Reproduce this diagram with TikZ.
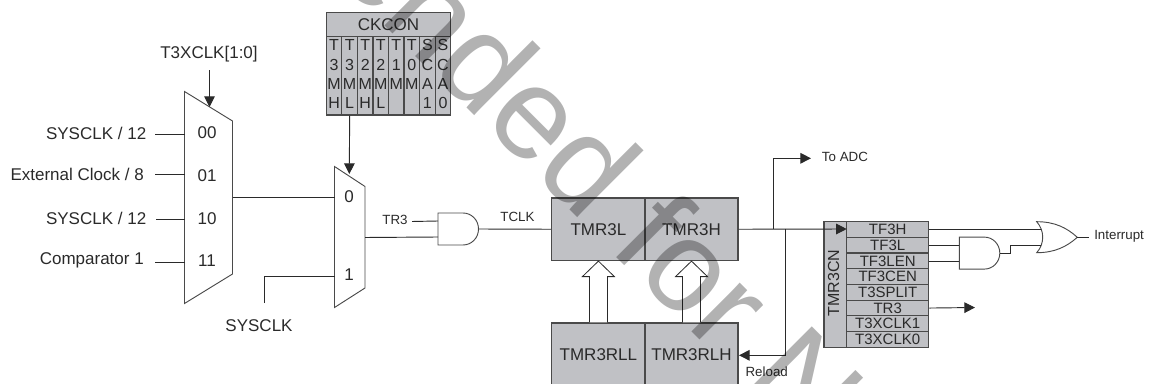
\documentclass[tikz,border=0pt]{standalone}
\usepackage{fontspec}
\setmainfont{Liberation Sans}
\usetikzlibrary{arrows.meta,calc}
\definecolor{ink}{HTML}{2A2A2A}
\definecolor{boxgrey}{HTML}{C0C1C5}
\definecolor{edgegrey}{HTML}{4A4A4A}
\newcommand{\fs}[1]{\fontsize{#1}{#1}\selectfont}
\tikzset{
  wire/.style={draw=ink,line width=0.7pt},
  arr/.style={wire,-{Triangle[length=8pt,width=8pt]}},
  lbl/.style={text=ink,inner sep=0pt,font=\fs{12.75}},
  smalllbl/.style={text=ink,inner sep=0pt,font=\fs{10}},
  muxshape/.style={draw=edgegrey,line width=0.7pt,fill=white},
  reg/.style={draw=edgegrey,line width=0.9pt,fill=boxgrey,text=ink,inner sep=0pt,font=\fs{12.75}},
  rowcell/.style={reg,minimum width=61.5pt,minimum height=11.78pt,font=\fs{11.25}},
  bitcell/.style={reg,minimum width=11.66pt,minimum height=59.0pt},
  bittext/.style={text=ink,inner sep=0pt,align=center,font=\fontsize{12}{14.5}\selectfont},
  hollow/.style={draw=ink,line width=0.6pt,fill=white},
  watermark/.style={inner sep=0pt,text=black,text opacity=0.3,font=\fs{97.5}},
  andg/.pic={
    \draw[wire,draw=edgegrey,fill=white] (0,0) -- (25,0) .. controls (33.5,0) and (40.5,7) .. (40.5,16)
      .. controls (40.5,25) and (33.5,32) .. (25,32) -- (0,32) -- cycle;
    \coordinate (-a) at (0,8);
    \coordinate (-b) at (0,24);
    \coordinate (-o) at (40.5,16);
  },
  org/.pic={
    \draw[wire,draw=edgegrey,fill=white] (0,0) .. controls (18,0) and (30,6) .. (40.6,15.6)
      .. controls (30,25) and (18,31) .. (0,31) .. controls (8,22) and (8,9) .. (0,0) -- cycle;
    \coordinate (-a) at (4.5,7.3);
    \coordinate (-b) at (4.5,23.3);
    \coordinate (-o) at (40.6,15.6);
  },
}
\begin{document}
\begin{tikzpicture}[x=0.75pt,y=-0.75pt]
\useasboundingbox (0,0) rectangle (1151,384);
\clip (0,0) rectangle (1151,384);

% first multiplexer
\draw[muxshape] (184.5,91.5) coordinate (m1tl) -- (232.5,121) coordinate (m1tr)
  -- (232.5,274) coordinate (m1br) -- (184.5,303.5) coordinate (m1bl) -- cycle;
\node[lbl] (t3sel) at (209,54) {T3XCLK[1:0]};
\coordinate (t3tip) at (209.5,107);
\draw[arr] (t3sel.south -| t3tip) ++(0,8) -- (t3tip);
\node[lbl] (p00) at (207,133) {00};
\node[lbl] (p01) at (207,176) {01};
\node[lbl] (p10) at (207,219) {10};
\node[lbl] (p11) at (207,260.5) {11};
\node[lbl,anchor=east] (s0) at (146.5,133) {SYSCLK / 12};
\node[lbl,anchor=east] (s1) at (144,174) {External Clock / 8};
\node[lbl,anchor=east] (s2) at (146.5,218.5) {SYSCLK / 12};
\node[lbl,anchor=east] (s3) at (144,260) {Comparator 1};
\foreach \n/\yy/\xx in {0/134.5/155,1/174.5/155,2/219/156,3/262/155}{
  \coordinate (a\n) at (\xx,\yy);
  \draw[wire] (a\n) -- (a\n -| m1tl);
}

% second multiplexer
\draw[muxshape] (334.5,166.5) coordinate (m2tl) -- (365,186.5) coordinate (m2tr)
  -- (365,288) -- (334.5,307.5) -- cycle;
\node[lbl] (q0) at (349,197) {0};
\node[lbl] (q1) at (349,275) {1};
\coordinate (m1out) at (232.5,197);
\draw[wire] (m1out) -- (m1out -| m2tl);
\node[lbl] (sclk) at (259,326) {SYSCLK};
\coordinate (scs) at (264,303);
\coordinate (sct) at (264,276);
\draw[wire] (scs) -- (sct) -- (sct -| m2tl);

% CKCON
\node[reg,minimum width=93.3pt,minimum height=18pt] (ck) at (388.5,24.3) {CKCON};
\foreach \i/\bits in {0/{T\\3\\M\\H},1/{T\\3\\M\\L},2/{T\\2\\M\\H},3/{T\\2\\M\\L},
                     4/{T\\1\\M\\ },5/{T\\0\\M\\ },6/{S\\C\\A\\1},7/{S\\C\\A\\0}}{
  \node[bitcell] (b\i) at ({334.1+15.55*\i},75.65) {};
  \node[bittext] (bt\i) at ({334.1+15.55*\i},74.2) {\bits};
}
\coordinate (m2tip) at (349.3,174);
\draw[arr] (b1.south) -- (m2tip);

% AND gate
\pic (g1) at (438,213) {andg};
\node[smalllbl] (tr3in) at (395,219.5) {TR3};
\coordinate (tr3s) at (412,221.5);
\draw[wire] (tr3s) -- (g1-a);
\coordinate (m2out) at (365,237.5);
\draw[wire] (m2out) -- (g1-b);
\node[smalllbl] (tclk) at (517.5,217) {TCLK};

% timer registers
\node[reg,minimum width=70.3pt,minimum height=46.9pt] (tl) at (598.4,229.25) {TMR3L};
\node[reg,minimum width=69.8pt,minimum height=46.9pt] (th) at (691.5,229.25) {TMR3H};
\node[reg,minimum width=70.3pt,minimum height=48pt] (rl) at (598.4,355) {TMR3RLL};
\node[reg,minimum width=69.8pt,minimum height=48pt] (rh) at (691.5,355) {TMR3RLH};
\draw[wire] (g1-o) -- (tl.west);

% hollow arrows
\foreach \nd/\up in {rl/tl,rh/th}{
  \draw[hollow] ($(\nd.north)+(-9,0)$) -- ($(\up.south)+(-9,15.5)$) -- ($(\up.south)+(-16,15.5)$)
    -- (\up.south) -- ($(\up.south)+(16,15.5)$) -- ($(\up.south)+(9,15.5)$) -- ($(\nd.north)+(9,0)$);
}

% TMR3CN
\node[reg,minimum width=17pt,minimum height=94.2pt] (cn) at (835.35,284.5) {};
\node[lbl,rotate=90,font=\fs{12}] (cnt) at (833.5,283) {TMR3CN};
\foreach \i/\txt in {1/TF3H,2/TF3L,3/TF3LEN,4/TF3CEN,5/T3SPLIT,6/TR3,7/T3XCLK1,8/T3XCLK0}{
  \node[rowcell] (r\i) at (887.7,{221.7+15.7*(\i-0.5)}) {\txt};
}

% wires from the timer
\coordinate (cnin) at (846.7,229);
\draw[arr] (th.east) -- (cnin);
\coordinate (bu) at (773.3,229);
\node[smalllbl,anchor=west] (adc) at (821.7,157) {To ADC};
\coordinate (adctip) at (811,158.3);
\draw[arr] (bu) |- (adctip);
\coordinate (bd) at (785.7,229);
\coordinate (rltip) at (739,355.3);
\draw[arr] (bd) |- (rltip);
\node[smalllbl] (rel) at (766.7,372) {Reload};

% right gates
\pic (g2) at (959.3,237.1) {andg};
\pic (g3) at (1036.7,221.7) {org};
\draw[wire] (r1.east |- cnin) -- (cnin -| g3-a);
\draw[wire] (r2.east |- g2-a) -- (g2-a);
\draw[wire] (r3.east |- g2-b) -- (g2-b);
\coordinate (jog) at (1010,253.1);
\draw[wire] (g2-o) -- (jog) -- (jog |- g3-b) -- (g3-b);
\node[smalllbl,anchor=west] (intr) at (1094,236) {Interrupt};
\coordinate (ostub) at (1088.7,237.3);
\draw[wire] (g3-o) -- (ostub);
\coordinate (tr3tip) at (975,307.5);
\draw[arr] (r6.east) -- (tr3tip);

% watermark
\node[watermark,rotate=-45,anchor=base west] (wm) at (327.5,-32) {ended for N};
\end{tikzpicture}
\end{document}
